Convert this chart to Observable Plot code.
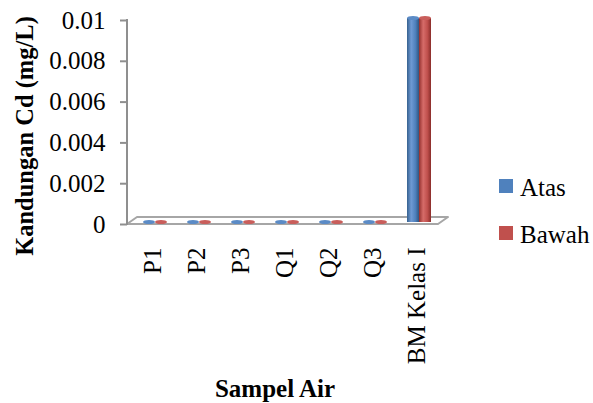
<!DOCTYPE html>
<html><head><meta charset="utf-8">
<script src="https://cdn.jsdelivr.net/npm/d3@7"></script>
<script src="https://cdn.jsdelivr.net/npm/@observablehq/plot@0.6"></script>
<style>html,body{margin:0;padding:0;background:#fff}svg{display:block}</style>
</head><body><div id="chart"></div>
<script>
const categories = ["P1","P2","P3","Q1","Q2","Q3","BM Kelas I"];
const atas = [0,0,0,0,0,0,0.01];
const bawah = [0,0,0,0,0,0,0.01];
const seriesNames = ["Atas","Bawah"];
const seriesColors = ["#4F81BD","#C0504D"];
const yTicks = [0,0.002,0.004,0.006,0.008,0.01];
const yTickLabels = ["0","0.002","0.004","0.006","0.008","0.01"];
const xTitle = "Sampel Air";
const yTitle = "Kandungan Cd (mg/L)";

const rows = categories.flatMap((c,i)=>[
  {cat:c, series:seriesNames[0], value:atas[i]},
  {cat:c, series:seriesNames[1], value:bawah[i]}
]);

const W = 593, H = 403;
const font = "'Liberation Serif','Times New Roman',serif";
const xRange = [133, 441];
const bw = (xRange[1]-xRange[0]) / categories.length;
const barW = 12;
const gray = "#8f8f8f";

function defsMark() {
  const g = d3.create("svg:g");
  const defs = g.append("defs");
  const grads = [
    ["gA", "#36618f", "#6f9ad4", "#4F81BD", "#2f5581"],
    ["gB", "#94312f", "#d66c69", "#C0504D", "#8a2d2a"]
  ];
  for (const [id, a, b, c, d] of grads) {
    const lg = defs.append("linearGradient").attr("id", id).attr("x1","0").attr("x2","1").attr("y1","0").attr("y2","0");
    lg.append("stop").attr("offset","0%").attr("stop-color",a);
    lg.append("stop").attr("offset","35%").attr("stop-color",b);
    lg.append("stop").attr("offset","70%").attr("stop-color",c);
    lg.append("stop").attr("offset","100%").attr("stop-color",d);
  }
  return g.node();
}

function floorMark(index, scales, values, dims) {
  const g = d3.create("svg:g");
  const left = dims.marginLeft, right = dims.width - dims.marginRight;
  const top = dims.marginTop, bottom = dims.height - dims.marginBottom;
  const ddx = 10, ddy = -7;
  g.append("path")
    .attr("d", `M${left},${bottom}L${right},${bottom}L${right+ddx},${bottom+ddy}L${left+ddx},${bottom+ddy}Z`)
    .attr("fill", "#fff").attr("stroke", "#a6a6a6").attr("stroke-width", 2).attr("stroke-linejoin","round");
  g.append("line").attr("x1", left).attr("x2", left).attr("y1", top-1).attr("y2", bottom+1)
    .attr("stroke", gray).attr("stroke-width", 2);
  return g.node();
}

function legendMark(index, scales, values, dims) {
  const g = d3.create("svg:g");
  seriesNames.forEach((name, i) => {
    const y0 = 179 + i*47;
    g.append("rect").attr("x", 499).attr("y", y0).attr("width", 14).attr("height", 14).attr("fill", seriesColors[i]);
    g.append("text").attr("x", 520).attr("y", y0 + 17).attr("text-anchor","start").attr("font-size", 25).attr("font-family", font).attr("fill","#000").text(name);
  });
  g.append("text").attr("transform", `translate(33,136) rotate(-90)`).attr("text-anchor","middle")
    .attr("font-size", 24.5).attr("font-weight","bold").attr("font-family", font).attr("fill","#000").text(yTitle);
  g.append("text").attr("x", 275).attr("y", 397).attr("text-anchor","middle")
    .attr("font-size", 25).attr("font-weight","bold").attr("font-family", font).attr("fill","#000").text(xTitle);
  return g.node();
}

const barMarks = seriesNames.flatMap((s, i) => {
  const data = rows.filter(r => r.series === s);
  const insetLeft = i === 0 ? bw/2 - barW : bw/2;
  const insetRight = bw - barW - insetLeft;
  return [
    Plot.barY(data, {x: "cat", y: "value", fill: i === 0 ? "url(#gA)" : "url(#gB)", insetLeft, insetRight, dy: -2}),
    Plot.barY(data, {x: "cat", y1: "value", y2: "value", fill: i === 0 ? "#5b8bc6" : "#c95e5b", insetLeft, insetRight, insetTop: -2, insetBottom: -2, rx: barW/2, ry: 2, dy: -2})
  ];
});

const plot = Plot.plot({
  width: W, height: H,
  marginLeft: 127, marginRight: W - 438, marginTop: 20, marginBottom: H - 224,
  style: {fontFamily: font, background: "#fff", color: "#000"},
  x: {domain: categories, range: xRange, padding: 0},
  y: {domain: [0, 0.01], range: [224, 20]},
  marks: [
    defsMark,
    floorMark,
    Plot.axisY(yTicks, {tickFormat: d => yTickLabels[yTicks.indexOf(d)], tickSize: 7, tickPadding: 15, fontSize: 25, stroke: gray, strokeWidth: 2, label: null}),
    Plot.axisX({tickRotate: -90, tickSize: 0, tickPadding: 23, fontSize: 25, dx: -3, label: null}),
    ...barMarks,
    legendMark
  ]
});
document.getElementById("chart").appendChild(plot);
</script>
</body></html>
